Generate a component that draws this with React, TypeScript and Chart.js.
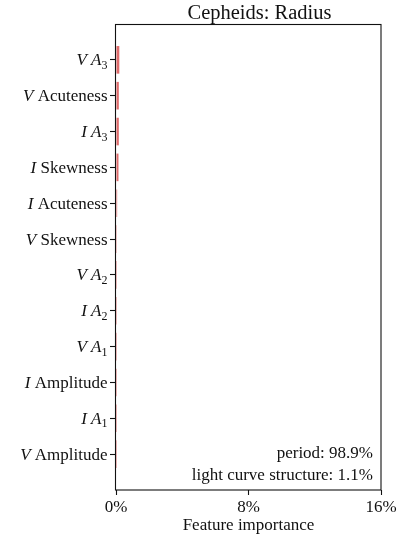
import React, { useEffect, useRef } from 'react';
import { Chart, registerables } from 'chart.js';

Chart.register(...registerables);

// ---- data ----
const TITLE = 'Cepheids: Radius';
const categories = [
  'V A_3',
  'V Acuteness',
  'I A_3',
  'I Skewness',
  'I Acuteness',
  'V Skewness',
  'V A_2',
  'I A_2',
  'V A_1',
  'I Amplitude',
  'I A_1',
  'V Amplitude',
];
const importance = [0.2, 0.17, 0.17, 0.15, 0.07, 0.01, 0.005, 0.005, 0.004, 0.003, 0.003, 0.003];
const xTicks = [0, 8, 16];
const xLabel = 'Feature importance';
const summaryLines = ['period: 98.9%', 'light curve structure: 1.1%'];

// ---- style ----
const FONT = '"Liberation Serif", "Times New Roman", serif';
const INK = '#111111';
const BAR = '#e06c6c';
const FS = 17;

type Part = { text: string; italic?: boolean; sub?: boolean };

function labelParts(label: string): Part[] {
  const band = label.slice(0, 1);
  const rest = label.slice(2);
  const parts: Part[] = [{ text: band, italic: true }, { text: ' ' }];
  const m = rest.match(/^A_(\d)$/);
  if (m) {
    parts.push({ text: 'A', italic: true });
    parts.push({ text: m[1], sub: true });
  } else {
    parts.push({ text: rest });
  }
  return parts;
}

function partFont(p: Part) {
  const size = p.sub ? Math.round(FS * 0.7) : FS;
  return `${p.italic ? 'italic ' : ''}${size}px ${FONT}`;
}

const decor = {
  id: 'decor',
  afterDraw(chart: any) {
    const { ctx, chartArea: a, scales } = chart;
    ctx.save();
    // frame (all four spines)
    ctx.strokeStyle = INK;
    ctx.lineWidth = 1.1;
    ctx.strokeRect(Math.round(a.left) - 0.5, Math.round(a.top) + 0.5, Math.round(a.right - a.left) + 0.5, Math.round(a.bottom - a.top) - 0.5);

    // title
    ctx.fillStyle = INK;
    ctx.font = `20.5px ${FONT}`;
    ctx.textAlign = 'center';
    ctx.textBaseline = 'alphabetic';
    ctx.fillText(TITLE, 259.5, 19);

    // y tick labels with mixed italics / subscripts
    const yScale = scales.y;
    categories.forEach((lab, i) => {
      const y = yScale.getPixelForValue(i) + 5.5;
      const parts = labelParts(lab);
      const widths = parts.map((p) => {
        ctx.font = partFont(p);
        return ctx.measureText(p.text).width;
      });
      const total = widths.reduce((s, w) => s + w, 0);
      let x = a.left - 8.5 - total;
      ctx.textAlign = 'left';
      parts.forEach((p, k) => {
        ctx.font = partFont(p);
        ctx.fillText(p.text, x, p.sub ? y + 3.5 : y);
        x += widths[k];
      });
    });

    // summary text
    ctx.font = `${FS}px ${FONT}`;
    ctx.textAlign = 'right';
    ctx.fillText(summaryLines[0], a.right - 8, 457.5);
    ctx.fillText(summaryLines[1], a.right - 8, 479.5);
    ctx.restore();
  },
};

export default function App() {
  const ref = useRef<HTMLCanvasElement | null>(null);
  useEffect(() => {
    if (!ref.current) return;
    const chart = new Chart(ref.current, {
      type: 'bar',
      data: {
        datasets: [
          {
            data: importance.map((v, i) => ({ x: v, y: i })),
            backgroundColor: BAR,
            borderWidth: 0,
            inflateAmount: 0,
            barPercentage: 0.77,
            categoryPercentage: 1,
          },
        ],
      },
      options: {
        indexAxis: 'y',
        responsive: false,
        maintainAspectRatio: false,
        animation: false,
        devicePixelRatio: 1,
        layout: { padding: { left: 0, top: 24, right: 34, bottom: 0 } },
        plugins: { legend: { display: false }, tooltip: { enabled: false }, title: { display: false } },
        scales: {
          x: {
            type: 'linear',
            min: 0,
            max: 16,
            afterBuildTicks: (s: any) => {
              s.ticks = xTicks.map((v) => ({ value: v }));
            },
            afterFit: (s: any) => {
              s.height = 64;
            },
            border: { display: false },
            grid: { drawOnChartArea: false, drawTicks: true, tickLength: 5, tickColor: INK, tickWidth: 1.1 },
            ticks: {
              callback: (v: any) => `${v}%`,
              font: { family: FONT, size: FS },
              color: INK,
              padding: 2,
              maxRotation: 0,
              autoSkip: false,
            },
            title: {
              display: true,
              text: xLabel,
              font: { family: FONT, size: FS },
              color: INK,
              padding: { top: 0, bottom: 18 },
            },
          },
          y: {
            type: 'linear',
            min: -1,
            max: 12,
            reverse: true,
            offset: false,
            afterBuildTicks: (s: any) => {
              s.ticks = categories.map((_, i) => ({ value: i }));
            },
            afterFit: (s: any) => {
              s.width = 116;
            },
            border: { display: false },
            grid: { offset: false, drawOnChartArea: false, drawTicks: true, tickLength: 6, tickColor: INK, tickWidth: 1.1 },
            ticks: { display: false },
          },
        },
      },
      plugins: [decor],
    });
    return () => chart.destroy();
  }, []);
  return (
    <div style={{ position: 'fixed', left: 0, top: 0, width: 415, height: 554, background: '#fff' }}>
      <canvas ref={ref} width={415} height={554} style={{ width: 415, height: 554, display: 'block' }} />
    </div>
  );
}
